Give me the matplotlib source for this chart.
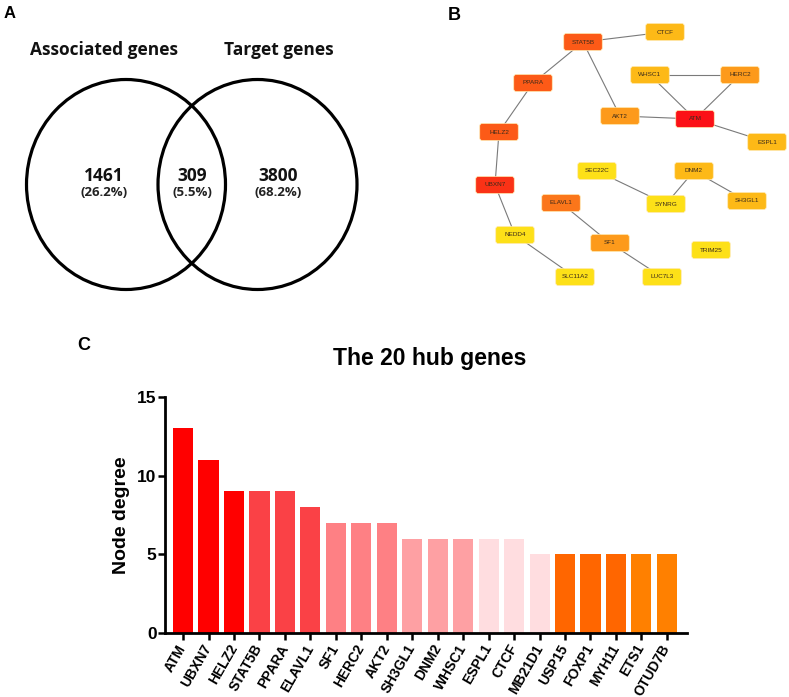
import matplotlib
matplotlib.use('Agg')
import matplotlib.pyplot as plt
from matplotlib.patches import Ellipse, FancyBboxPatch

# panel A - venn numbers
set_names = ['Associated genes', 'Target genes']
venn_counts = ['1461', '309', '3800']
venn_pcts = ['(26.2%)', '(5.5%)', '(68.2%)']

# panel B - PPI network (layout from the picture, pixel units)
node_names = ['STAT5B', 'CTCF', 'PPARA', 'WHSC1', 'HERC2', 'AKT2', 'ATM', 'ESPL1',
              'HELZ2', 'UBXN7', 'SEC22C', 'DNM2', 'SYNRG', 'SH3GL1', 'ELAVL1',
              'NEDD4', 'SF1', 'TRIM25', 'SLC11A2', 'LUC7L3']
node_x = [583, 665, 533, 650, 740, 620, 695, 767, 499, 495, 597, 694, 666, 747,
          561, 515, 610, 711, 575, 662]
node_y = [42, 32, 83, 75, 75, 116, 119, 142, 132, 185, 171, 171, 204, 201,
          203, 235, 243, 250, 277, 277]
node_colors = ['#fc5a17', '#fdb917', '#fc5a17', '#fdb917', '#fd9a1b', '#fd9a1b',
               '#fb1117', '#fdb917', '#fc5a17', '#fa3216', '#fde018', '#fdb917',
               '#fde018', '#fdb917', '#fb761a', '#fde018', '#fd9a1b', '#fde018',
               '#fde018', '#fde018']
edges = [('STAT5B', 'CTCF'), ('STAT5B', 'PPARA'), ('STAT5B', 'AKT2'),
         ('PPARA', 'HELZ2'), ('HELZ2', 'UBXN7'), ('UBXN7', 'NEDD4'),
         ('NEDD4', 'SLC11A2'), ('WHSC1', 'HERC2'), ('WHSC1', 'ATM'),
         ('HERC2', 'ATM'), ('AKT2', 'ATM'), ('ATM', 'ESPL1'),
         ('SEC22C', 'SYNRG'), ('DNM2', 'SYNRG'), ('DNM2', 'SH3GL1'),
         ('ELAVL1', 'SF1'), ('SF1', 'LUC7L3')]

# panel C - hub genes
genes = ['ATM', 'UBXN7', 'HELZ2', 'STAT5B', 'PPARA', 'ELAVL1', 'SF1', 'HERC2',
         'AKT2', 'SH3GL1', 'DNM2', 'WHSC1', 'ESPL1', 'CTCF', 'MB21D1', 'USP15',
         'FOXP1', 'MYH11', 'ETS1', 'OTUD7B']
degree = [13, 11, 9, 9, 9, 8, 7, 7, 7, 6, 6, 6, 6, 6, 5, 5, 5, 5, 5, 5]
bar_colors = ['#ff0000', '#ff0000', '#ff0000', '#fa4146', '#fa4146', '#fa4146',
              '#fe8084', '#fe8084', '#fe8084', '#fea0a3', '#fea0a3', '#fea0a3',
              '#ffdde0', '#ffdde0', '#ffdde0', '#ff6600', '#ff6600', '#ff6600',
              '#ff8000', '#ff8000']

W, H = 789, 697
fig = plt.figure(figsize=(W / 100, H / 100), dpi=100)

# overlay axes in pixel coordinates for A and B
ax0 = fig.add_axes([0, 0, 1, 1])
ax0.set_xlim(0, W)
ax0.set_ylim(H, 0)
ax0.axis('off')

venn_font = 'Open Sans'
arial = 'Liberation Sans'

# --- A
ax0.text(4, 13, 'A', fontsize=12, fontweight='bold', family=arial, va='center', ha='left')
for cx in [126, 257.5]:
    ax0.add_patch(Ellipse((cx, 184.5), 199, 210, fill=False, lw=2.3, ec='black'))
ax0.text(104, 50, set_names[0], fontsize=12.5, fontweight='bold', family=venn_font,
         ha='center', va='center', color='#111111')
ax0.text(279, 50, set_names[1], fontsize=12.5, fontweight='bold', family=venn_font,
         ha='center', va='center', color='#111111')
for cx, n, p in zip([104, 192, 278], venn_counts, venn_pcts):
    ax0.text(cx, 176, n, fontsize=12.5, fontweight='bold', family=venn_font,
             ha='center', va='center', color='#111111')
    ax0.text(cx, 193, p, fontsize=9.5, fontweight='bold', family=venn_font,
             ha='center', va='center', color='#222222')

# --- B
ax0.text(448, 15, 'B', fontsize=13, fontweight='bold', family=arial, va='center', ha='left')
pos = {n: (x, y) for n, x, y in zip(node_names, node_x, node_y)}
for a, b in edges:
    ax0.plot([pos[a][0], pos[b][0]], [pos[a][1], pos[b][1]], color='#7a7a7a',
             lw=0.8, zorder=1)
bw, bh = 38.5, 17
for n, c in zip(node_names, node_colors):
    x, y = pos[n]
    ax0.add_patch(FancyBboxPatch((x - bw / 2, y - bh / 2), bw, bh,
                                 boxstyle='round,pad=0,rounding_size=2.5',
                                 fc=c, ec='#ffe9b0', lw=0.5, zorder=2))
    ax0.text(x, y, n, fontsize=4.6, family=arial, ha='center', va='center',
             color='#3a2a1a', zorder=3)

# --- C
fig.text(77 / W, 1 - 345 / H, 'C', fontsize=13, fontweight='bold', family=arial,
         va='center', ha='left')
fig.text(430 / W, 1 - 359 / H, 'The 20 hub genes', fontsize=16.5, fontweight='bold',
         family=arial, ha='center', va='center')

ax = fig.add_axes([165 / W, 1 - 633 / H, (687 - 165) / W, (633 - 397) / H])
ax.patch.set_alpha(0)
xs = list(range(len(genes)))
ax.bar(xs, degree, width=0.79, color=bar_colors, zorder=2)
ax.set_xlim(-0.71, 19.79)
ax.set_ylim(0, 15)
ax.set_yticks([0, 5, 10, 15])
ax.set_xticks(xs)
ax.set_xticklabels(genes, rotation=60, ha='right', va='center', rotation_mode='anchor',
                   fontsize=10, fontweight='bold', family=arial)
for lab in ax.get_yticklabels():
    lab.set_fontsize(12.5)
    lab.set_fontweight('bold')
    lab.set_family(arial)
ax.set_ylabel('Node degree', fontsize=14, fontweight='bold', family=arial, labelpad=5)
for s in ['top', 'right']:
    ax.spines[s].set_visible(False)
for s in ['left', 'bottom']:
    ax.spines[s].set_linewidth(2)
ax.tick_params(axis='both', width=1.8, length=5, direction='out')
ax.tick_params(axis='y', pad=1)
ax.tick_params(axis='x', pad=4)

plt.savefig('out.png', dpi=100)
